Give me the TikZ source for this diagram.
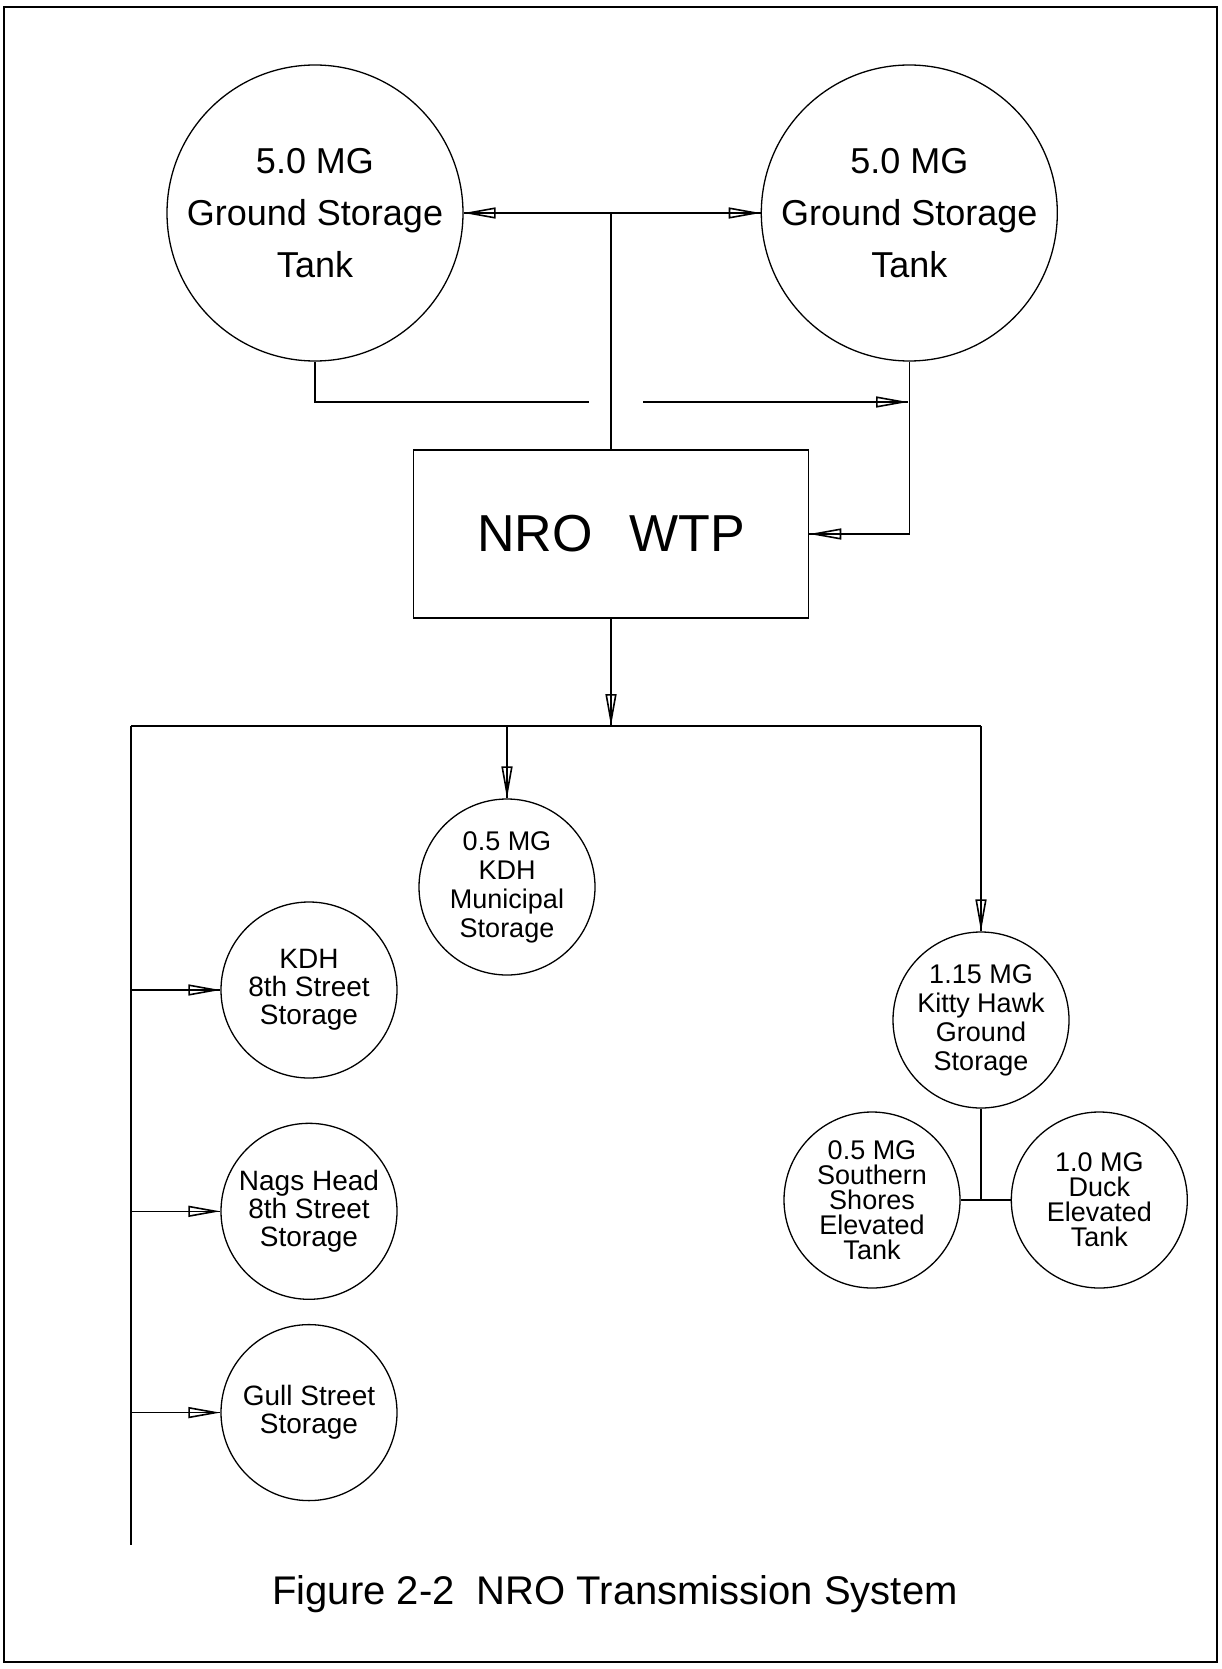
\documentclass[tikz,border=0pt]{standalone}
\usepackage{fontspec}
\setmainfont{Liberation Sans}
\usetikzlibrary{positioning, arrows.meta}

\begin{document}
\begin{tikzpicture}[
    x=1pt, y=-1pt,
    node distance=24pt and 24pt,
    pipe/.style={line width=1.6pt, black},
    feed/.style={pipe, -{Triangle[open, length=32pt, width=11pt]},
        postaction={draw, -, line width=1.2pt}},
    tankbox/.style={
        circle,
        draw,
        line width=1.3pt,
        minimum size=296pt,
        inner sep=0pt,
        align=center,
        font=\fontsize{36}{52}\selectfont
    },
    storebox/.style={
        circle,
        draw,
        line width=1.3pt,
        minimum size=176pt,
        inner sep=0pt,
        align=center,
        font=\fontsize{27}{29}\selectfont
    },
    plantbox/.style={
        rectangle,
        draw,
        line width=1.6pt,
        minimum width=395pt,
        minimum height=168pt,
        font=\fontsize{52}{60}\selectfont
    }
]
    \useasboundingbox (0,0) rectangle (1221,1669);
    \draw[line width=1.8pt] (4,7) rectangle (1217,1662);

    % Top: ground storage tanks
    \node[tankbox] (gstwest) at (315,213) {5.0 MG\\Ground Storage\\Tank};
    \node[tankbox, right=297pt of gstwest] (gsteast) {5.0 MG\\Ground Storage\\Tank};

    % Treatment plant
    \node[plantbox] (wtp) at (611,534) {NRO\hspace{0.7em}WTP\hspace{22pt}};

    % Middle: municipal + Kitty Hawk
    \node[storebox] (kdhmun) at (507,887) {0.5 MG\\KDH\\Municipal\\Storage};
    \node[storebox] (kitty) at (981,1020) {1.15 MG\\Kitty Hawk\\Ground\\Storage};
    \node[storebox, font=\fontsize{27}{25}\selectfont] (shores) at (872,1200) {0.5 MG\\Southern\\Shores\\Elevated\\Tank};
    \node[storebox, font=\fontsize{27}{25}\selectfont, right=50pt of shores] (duck) {1.0 MG\\Duck\\Elevated\\Tank};

    % Left: street storage
    \node[storebox, font=\fontsize{28}{28}\selectfont] (kdheight) at (309,990) {KDH\\8th Street\\Storage};
    \node[storebox, font=\fontsize{28}{28}\selectfont, below=44pt of kdheight] (nagshead) {Nags Head\\8th Street\\Storage};
    \node[storebox, font=\fontsize{28}{28}\selectfont, below=24pt of nagshead] (gullst) {Gull Street\\Storage};

    \node[font=\fontsize{40}{48}\selectfont] (caption) at (615,1594) {Figure 2-2\ \ NRO Transmission System};

    % Junctions
    \coordinate (jtop) at (611,213);
    \coordinate (gapwest) at (589,402);
    \coordinate (gapeast) at (643,402);
    \coordinate (jeast) at (908,402);
    \coordinate (jmain) at (611,726);
    \coordinate (mainwest) at (131,726);
    \coordinate (maineast) at (981,726);
    \coordinate (munbranch) at (507,726);
    \coordinate (mainend) at (131,1545);
    \coordinate (jduck) at (981,1200);

    % Arrows
    \draw[feed] (jtop) -- (gstwest);
    \draw[feed] (jtop) -- (gsteast);
    \draw[pipe] (jtop) -- (wtp);
    \draw[pipe] (gstwest.south) |- (gapwest);
    \draw[feed] (gapeast) -- (jeast);
    \draw[feed] (gsteast.south) |- (wtp.east);
    \draw[feed] (wtp) -- (jmain);
    \draw[pipe] (mainwest) -- (maineast);
    \draw[pipe] (mainwest) -- (mainend);
    \draw[feed] (munbranch) -- (kdhmun);
    \draw[feed] (maineast) -- (kitty);
    \draw[feed] (mainwest |- kdheight) -- (kdheight);
    \draw[feed] (mainwest |- nagshead) -- (nagshead);
    \draw[feed] (mainwest |- gullst) -- (gullst);
    \draw[pipe] (kitty) -- (jduck);
    \draw[pipe] (shores) -- (duck);
\end{tikzpicture}
\end{document}
